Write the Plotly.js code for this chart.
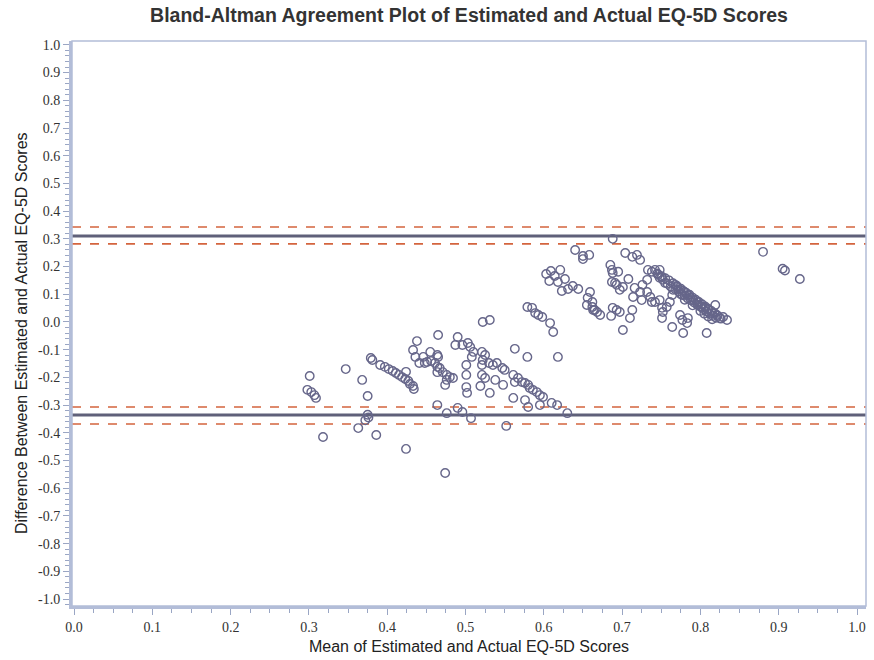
<!DOCTYPE html>
<html>
<head>
<meta charset="utf-8">
<script src="https://cdn.plot.ly/plotly-3.0.1.min.js"></script>
<style>html,body{margin:0;padding:0;background:#fff;}#chart{width:874px;height:660px;}</style>
</head>
<body>
<div id="chart"></div>
<script>
// Mean of estimated and actual EQ-5D scores (x) and difference (y)
const meanScores = [
  0.298,0.303,0.307,0.309,0.301,0.318,0.347,0.368,0.375,0.375,0.372,0.376,0.363,0.386,0.379,0.381,
  0.391,0.397,0.402,0.407,0.411,0.415,0.419,0.423,0.427,0.429,0.433,0.434,0.424,0.424,
  0.438,0.433,0.436,0.441,0.446,0.448,0.455,0.456,0.461,0.464,0.465,0.464,0.464,
  0.451,0.465,0.464,0.467,0.471,0.476,0.480,0.484,0.474,0.476,
  0.501,0.501,0.501,0.502,0.476,0.490,0.496,0.507,0.474,
  0.490,0.487,0.496,0.503,0.506,0.510,0.508,0.521,0.525,0.522,0.521,0.530,0.535,0.540,0.547,0.550,
  0.563,0.579,0.618,0.522,0.531,
  0.519,0.521,0.525,0.531,0.538,0.548,0.561,0.563,0.567,0.572,0.576,0.580,0.582,0.586,0.591,0.595,0.599,
  0.561,0.576,0.580,0.595,0.610,0.617,0.630,0.552,
  0.579,0.585,0.589,0.593,0.598,0.608,0.612,
  0.603,0.609,0.614,0.607,0.618,0.627,0.631,0.637,0.644,0.623,0.640,0.650,0.650,0.621,
  0.658,0.656,0.655,0.662,0.665,0.668,0.659,0.662,0.663,0.672,
  0.688,0.704,0.713,0.719,0.723,0.685,0.687,0.688,0.695,0.687,0.691,0.693,0.697,0.701,0.708,
  0.688,0.693,0.697,0.686,0.710,0.701,0.713,0.714,0.716,0.723,0.725,0.726,0.732,0.733,0.738,0.742,
  0.746,0.748,0.751,0.752,0.755,0.732,0.736,0.738,0.742,0.748,0.751,0.752,0.751,0.757,0.761,0.764,
  0.765,0.768,0.770,0.774,0.777,0.780,0.784,0.787,0.791,0.796,0.797,0.802,0.806,0.810,0.815,0.819,
  0.821,0.825,0.829,0.834,0.774,0.777,0.783,0.784,0.764,0.778,0.808,
  0.745,0.750,0.755,0.760,0.765,0.770,0.775,0.778,0.782,0.786,0.790,0.794,0.798,0.802,0.806,0.810,
  0.814,0.818,0.822,0.826,0.748,0.758,0.762,0.768,0.772,0.780,0.784,0.788,0.792,0.796,0.800,0.804,
  0.808,0.812,0.816,0.820,0.775,0.780,0.790,0.800,0.805,0.810,0.815,
  0.880,0.905,0.908,0.927
];
const diffScores = [
  -0.245,-0.253,-0.264,-0.274,-0.195,-0.415,-0.170,-0.209,-0.267,-0.335,-0.355,-0.345,-0.383,-0.408,-0.130,-0.137,
  -0.155,-0.162,-0.170,-0.177,-0.184,-0.191,-0.199,-0.206,-0.213,-0.224,-0.231,-0.242,-0.180,-0.458,
  -0.069,-0.101,-0.126,-0.148,-0.126,-0.148,-0.108,-0.141,-0.148,-0.119,-0.047,-0.181,-0.300,
  -0.144,-0.126,-0.162,-0.166,-0.181,-0.191,-0.199,-0.202,-0.227,-0.209,
  -0.155,-0.191,-0.235,-0.256,-0.329,-0.310,-0.325,-0.347,-0.545,
  -0.054,-0.083,-0.083,-0.076,-0.090,-0.108,-0.126,-0.108,-0.119,-0.137,-0.155,-0.148,-0.155,-0.148,-0.166,-0.173,
  -0.097,-0.126,-0.126,0.000,0.007,
  -0.231,-0.191,-0.202,-0.256,-0.209,-0.227,-0.191,-0.217,-0.202,-0.217,-0.220,-0.227,-0.238,-0.245,-0.253,-0.264,-0.271,
  -0.274,-0.282,-0.307,-0.300,-0.292,-0.300,-0.329,-0.375,
  0.054,0.051,0.032,0.025,0.018,-0.004,-0.036,
  0.173,0.184,0.166,0.148,0.144,0.155,0.119,0.130,0.119,0.112,0.260,0.238,0.227,0.188,
  0.242,0.087,0.061,0.054,0.043,0.036,0.108,0.072,0.043,0.025,
  0.300,0.249,0.235,0.242,0.224,0.206,0.188,0.177,0.181,0.144,0.141,0.134,0.116,0.126,0.155,
  0.051,0.043,0.036,0.022,0.014,-0.029,0.043,0.090,0.123,0.108,0.079,0.134,0.152,0.188,0.181,0.188,
  0.170,0.188,0.162,0.152,0.141,0.108,0.090,0.072,0.072,0.079,0.051,0.036,0.014,0.054,0.072,0.097,
  0.116,0.134,0.126,0.116,0.097,0.108,0.097,0.087,0.079,0.072,0.061,0.054,0.051,0.043,0.032,0.061,
  0.025,0.014,0.018,0.007,0.025,0.007,-0.004,0.014,-0.018,-0.040,-0.040,
  0.175,0.165,0.158,0.150,0.140,0.130,0.120,0.112,0.105,0.098,0.088,0.080,0.072,0.064,0.056,0.048,
  0.040,0.032,0.022,0.012,0.160,0.138,0.128,0.118,0.110,0.095,0.085,0.078,0.070,0.062,0.055,0.046,
  0.038,0.030,0.022,0.015,0.100,0.080,0.060,0.040,0.030,0.020,0.010,
  0.253,0.192,0.186,0.155
];
// Limits of agreement (solid) and their confidence bounds (dashed)
const limitLines = [0.310, -0.336];
const limitCI = [0.343, 0.282, -0.307, -0.368];

const xTickVals = [0,0.1,0.2,0.3,0.4,0.5,0.6,0.7,0.8,0.9,1.0];
const xTickText = ['0.0','0.1','0.2','0.3','0.4','0.5','0.6','0.7','0.8','0.9','1.0'];
const yTickVals = [1.0,0.9,0.8,0.7,0.6,0.5,0.4,0.3,0.2,0.1,0.0,-0.1,-0.2,-0.3,-0.4,-0.5,-0.6,-0.7,-0.8,-0.9,-1.0];
const yTickText = ['1.0','0.9','0.8','0.7','0.6','0.5','0.4','0.3','0.2','0.1','0.0','-0.1','-0.2','-0.3','-0.4','-0.5','-0.6','-0.7','-0.8','-0.9','-1.0'];

const frameColor = '#b3bdd8';
const shapes = [];
limitCI.forEach(v => shapes.push({type:'line', xref:'paper', x0:0, x1:1, yref:'y', y0:v, y1:v,
  line:{color:'#d4643e', width:1.6, dash:'dash'}, layer:'below'}));
limitLines.forEach(v => shapes.push({type:'line', xref:'paper', x0:0, x1:1, yref:'y', y0:v, y1:v,
  line:{color:'#5f6079', width:3}, layer:'below'}));
shapes.push({type:'rect', xref:'paper', yref:'paper', x0:0, x1:1, y0:0, y1:1,
  line:{color:frameColor, width:1.5}, layer:'above'});

const trace = {
  x: meanScores, y: diffScores, type:'scatter', mode:'markers',
  marker:{symbol:'circle-open', size:8.5, color:'#66668a', line:{width:1.4, color:'#66668a'}},
  hoverinfo:'x+y'
};

const titleFont = {family:'"Liberation Sans", Arial, sans-serif', size:16, color:'#222'};
const tickFont = {family:'"Liberation Serif", "Times New Roman", serif', size:14, color:'#333'};
const layout = {
  width:874, height:660,
  margin:{l:72, r:8, t:41, b:54},
  paper_bgcolor:'#fff', plot_bgcolor:'#fff',
  showlegend:false,
  title:{text:'<b>Bland-Altman Agreement Plot of Estimated and Actual EQ-5D Scores</b>',
    font:{family:'"Liberation Sans", Arial, sans-serif', size:19.5, color:'#333'},
    x:0.5, xref:'paper', y:0.988, yanchor:'top'},
  xaxis:{range:[-0.0026, 1.0115], tickmode:'array', tickvals:xTickVals, ticktext:xTickText,
    ticks:'outside', ticklen:6, tickwidth:1, tickcolor:'#9aa6c4', tickfont:tickFont,
    showgrid:false, zeroline:false, showline:true, linecolor:frameColor, linewidth:3,
    minor:{dtick:0.025, ticks:'outside', ticklen:4, tickcolor:'#9aa6c4', showgrid:false},
    title:{text:'Mean of Estimated and Actual EQ-5D Scores', standoff:8, font:titleFont}},
  yaxis:{range:[-1.025, 1.014], tickmode:'array', tickvals:yTickVals, ticktext:yTickText,
    ticks:'outside', ticklen:6, tickwidth:1, tickcolor:'#9aa6c4', tickfont:tickFont,
    showgrid:false, zeroline:false, showline:true, linecolor:frameColor, linewidth:3,
    minor:{dtick:0.02, ticks:'outside', ticklen:4, tickcolor:'#9aa6c4', showgrid:false}},
  annotations:[{text:'Difference Between Estimated and Actual EQ-5D Scores', textangle:-90,
    xref:'paper', yref:'paper', x:0, xshift:-51, y:0.483, xanchor:'center', yanchor:'middle',
    showarrow:false, font:titleFont}],
  shapes: shapes
};
Plotly.newPlot('chart', [trace], layout, {displayModeBar:false, staticPlot:true});
</script>
</body>
</html>
